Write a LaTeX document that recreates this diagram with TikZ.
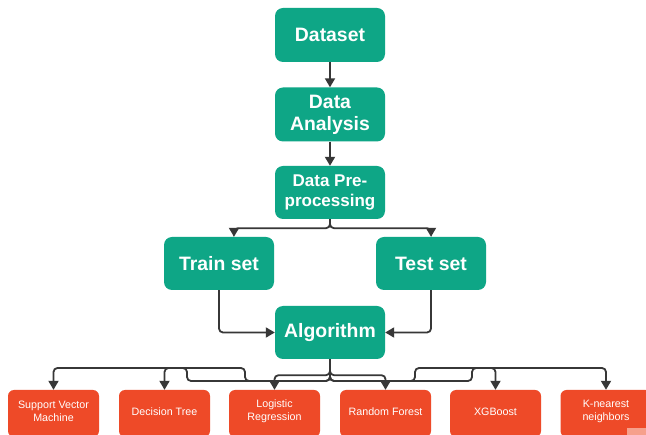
\documentclass[tikz,border=0pt]{standalone}
\usepackage{fontspec}
\setmainfont{Liberation Sans}
\usetikzlibrary{arrows.meta}
\definecolor{boxgreen}{RGB}{14,166,134}
\definecolor{boxred}{RGB}{238,74,40}
\definecolor{linegray}{RGB}{55,55,55}
\definecolor{wmark}{RGB}{246,160,140}
\tikzset{
  greenbox/.style={fill=boxgreen, draw=none, rounded corners=8pt, minimum width=110pt, text=white, align=center, font=\bfseries\fontsize{19.4}{22}\selectfont, inner sep=2pt},
  redbox/.style={fill=boxred, draw=none, rounded corners=6pt, minimum width=91pt, minimum height=47pt},
  redlabel/.style={text=white, align=center, font=\fontsize{10.7}{13}\selectfont, inner sep=0pt},
  conn/.style={draw=linegray, line width=1.8pt, rounded corners=4pt, -{Triangle[width=10pt,length=9pt]}}
}
\begin{document}
\begin{tikzpicture}[x=1pt,y=-1pt]
\useasboundingbox (0,0) rectangle (646,435);
\fill[white] (0,0) rectangle (646,435);
% green nodes
\node[greenbox, minimum height=54pt] (dataset) at (330,35) {Dataset};
\node[greenbox, minimum height=54pt] (analysis) at (330,114.5) {Data\\Analysis};
\node[greenbox, minimum height=53pt, font=\bfseries\fontsize{17}{19.5}\selectfont] (prep) at (330,192.5) {Data Pre-\\processing};
\node[greenbox, minimum height=53pt] (train) at (219,263.5) {Train set};
\node[greenbox, minimum height=53pt] (test) at (431,263.5) {Test set};
\node[greenbox, minimum height=53pt] (algo) at (330,332.5) {Algorithm};
% red nodes
\node[redbox] (svm) at (53.5,413.5) {};
\node[redbox] (dt) at (164.5,413.5) {};
\node[redbox] (lr) at (274.5,413.5) {};
\node[redbox] (rf) at (385.5,413.5) {};
\node[redbox] (xgb) at (495.5,413.5) {};
\node[redbox] (knn) at (606,413.5) {};
\node[redlabel] (svmt) at (53.5,411.5) {Support Vector\\Machine};
\node[redlabel] (dtt) at (164.5,411.5) {Decision Tree};
\node[redlabel] (lrt) at (274.5,411.5) {Logistic\\Regression};
\node[redlabel] (rft) at (385.5,411.5) {Random Forest};
\node[redlabel] (xgbt) at (495.5,411.5) {XGBoost};
\node[redlabel] (knnt) at (606,411.5) {K-nearest\\neighbors};
\fill[wmark] (627,428) rectangle (646,435);
% upper connectors
\draw[conn] (dataset.south) -- (analysis.north);
\draw[conn] (analysis.south) -- (prep.north);
\coordinate (tr) at ([xshift=15pt]train.north);
\draw[conn] (prep.south) -- ++(0,9) -| (tr);
\draw[conn] (prep.south) -- ++(0,9) -| (test.north);
\draw[conn] (train.south) |- (algo.west);
\draw[conn] (test.south) |- (algo.east);
% lower connectors
\coordinate (js1) at (245,381);
\coordinate (js2) at (245,368);
\coordinate (jd1) at (187,381);
\coordinate (jd2) at (187,368);
\coordinate (jx1) at (472,381);
\coordinate (jx2) at (472,368);
\coordinate (jk1) at (415,381);
\coordinate (jk2) at (415,368);
\draw[conn] (algo.south) -- ++(0,16) -| (lr.north);
\draw[conn] (algo.south) -- ++(0,16) -| (rf.north);
\draw[conn] (algo.south) |- (js1) -- (js2) -| (svm.north);
\draw[conn] (algo.south) |- (jd1) -- (jd2) -| (dt.north);
\draw[conn] (algo.south) |- (jx1) -- (jx2) -| (xgb.north);
\draw[conn] (algo.south) |- (jk1) -- (jk2) -| (knn.north);
\end{tikzpicture}
\end{document}
